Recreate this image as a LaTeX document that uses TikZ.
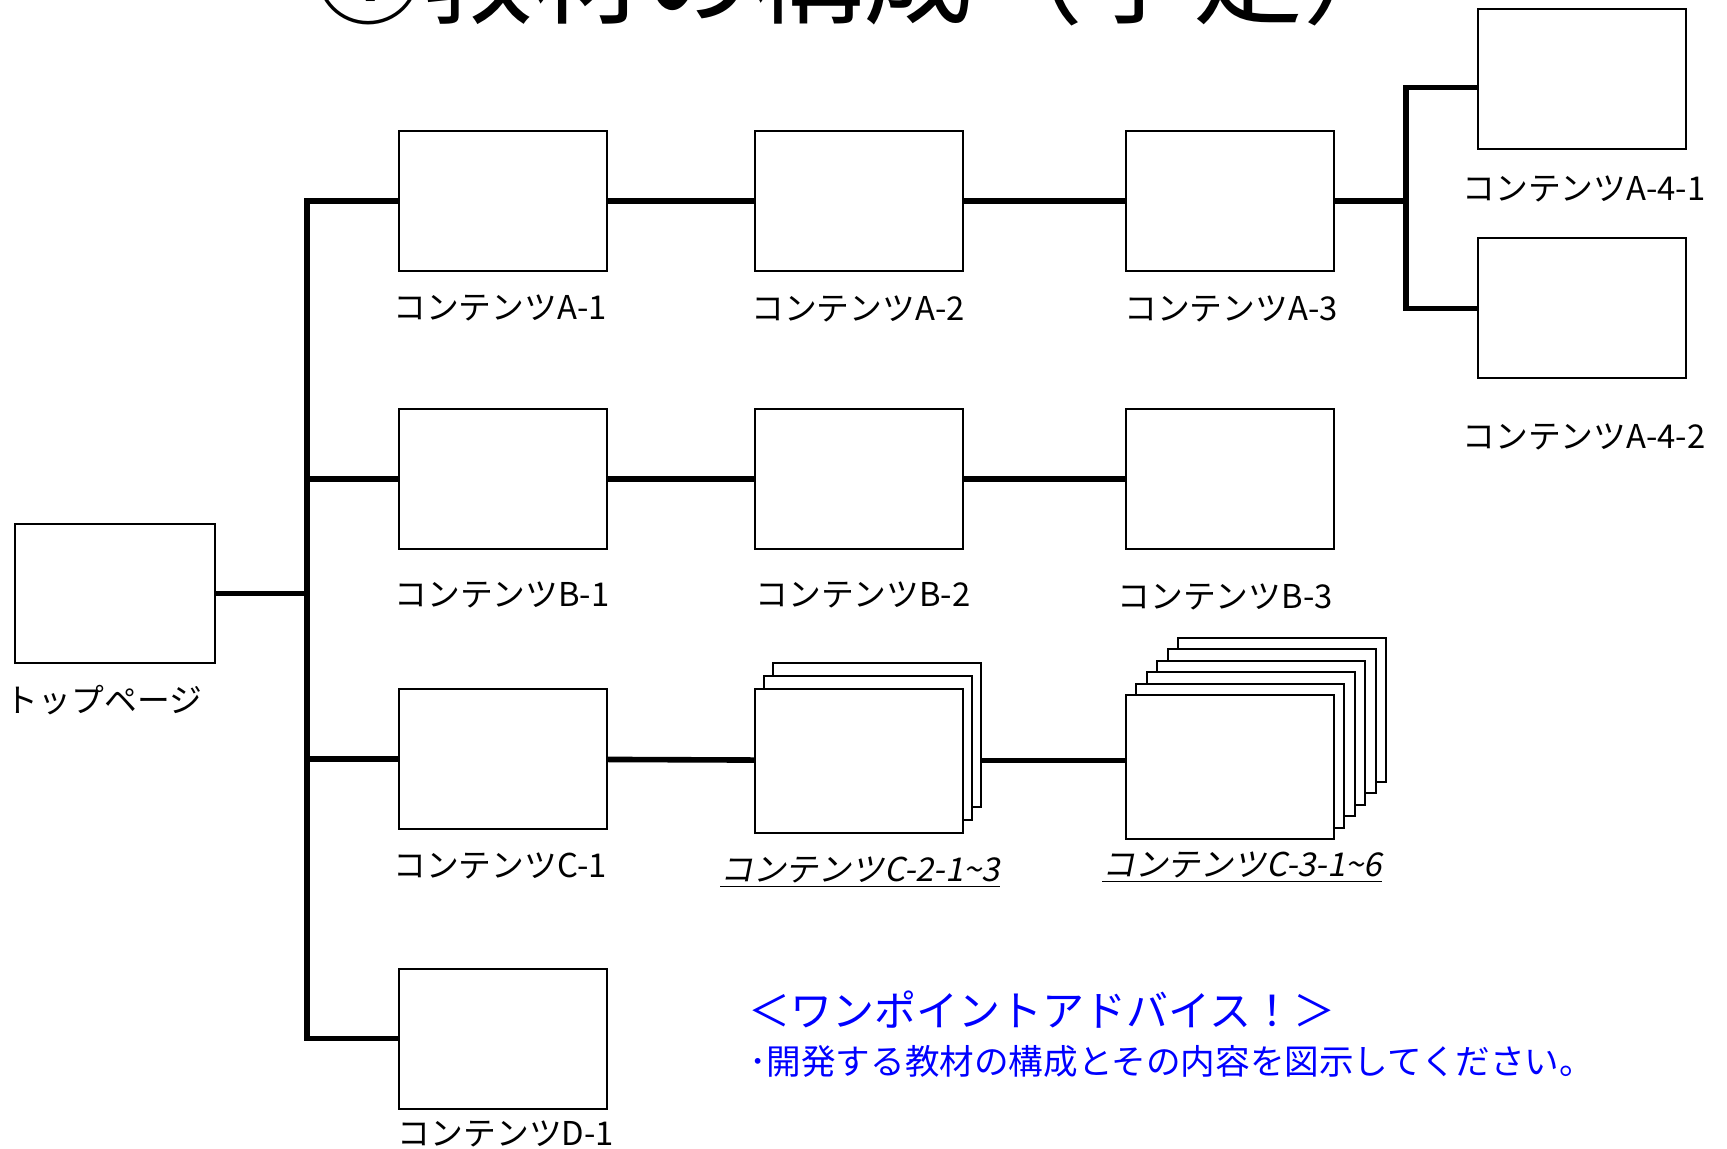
\documentclass[tikz,border=0pt]{standalone}
\usepackage{fontspec}
\newfontfamily\jp{Noto Sans CJK JP}
\newfontfamily\jpit[FakeSlant=0.2]{Noto Sans CJK JP}

\begin{document}
\begin{tikzpicture}[x=0.5pt,y=-0.5pt,
	page/.style={draw,line width=1pt,fill=white,inner sep=0,outer sep=0,minimum width=104pt,minimum height=70pt},
	conn/.style={line width=2.8pt},
	lbl/.style={inner sep=0,font=\jp\fontsize{16.4pt}{19pt}\selectfont},
	lblit/.style={inner sep=0,font=\jpit\fontsize{16.4pt}{19pt}\selectfont},
	advice/.style={inner sep=0,anchor=west,text=blue}]
	\useasboundingbox (0,0) rectangle (1727,1149);
	\node[anchor=base,inner sep=0,font=\jp\fontsize{55pt}{60pt}\selectfont] (title) at (863,16) {①教材の構成（予定）};
	% pages
	\node[page,minimum width=100pt,minimum height=69.5pt] (top) at (115,593.5) {};
	\node[page] (A1) at (503,201) {};
	\node[page] (A2) at (858.5,201) {};
	\node[page] (A3) at (1230,201) {};
	\node[page] (A41) at (1582,79.5) {};
	\node[page] (A42) at (1582,308.5) {};
	\node[page] (B1) at (503,479) {};
	\node[page] (B2) at (858.5,479) {};
	\node[page] (B3) at (1230,479) {};
	\node[page] (C1) at (503,759) {};
	\foreach \k in {2,1}
		\node[page,minimum height=72pt] (C2back\k) at (858.5+9*\k,760.5-13*\k) {};
	\node[page,minimum height=72pt] (C2) at (858.5,760.5) {};
	\foreach \k in {5,...,1}
		\node[page,minimum height=72pt] (C3back\k) at (1229.5+10.5*\k,767-11.5*\k) {};
	\node[page,minimum height=72pt] (C3) at (1229.5,767) {};
	\node[page] (D1) at (503,1038.5) {};
	% tree lines
	\coordinate (trunk) at (307,593.5);
	\coordinate (brA) at (1406,201);
	\draw[conn] (top.east) -- (top.east -| trunk);
	\draw[conn] (A1.west) -- (A1.west -| trunk) |- (D1.west);
	\draw[conn] (B1.west) -- (B1.west -| trunk);
	\draw[conn] (C1.west) -- (C1.west -| trunk);
	\draw[conn] (A1) -- (A2);
	\draw[conn] (A2) -- (A3);
	\draw[conn] (A3.east) -- (brA);
	\draw[conn] ([yshift=-4pt]A41.west) -| (brA) |- (A42.west);
	\draw[conn] (B1) -- (B2);
	\draw[conn] (B2) -- (B3);
	\draw[conn] (C1) -- (C2);
	\draw[conn] (C2.east -| C2back2.east) -- (C2.east -| C3.west);
	% labels
	\node[lbl] (top-lbl) at (104,700) {トップページ};
	\node[lbl] (A1-lbl) at (500,308) {コンテンツA-1};
	\node[lbl] (A2-lbl) at (858,309) {コンテンツA-2};
	\node[lbl] (A3-lbl) at (1231,309) {コンテンツA-3};
	\node[lbl] (A41-lbl) at (1584,189) {コンテンツA-4-1};
	\node[lbl] (A42-lbl) at (1584,437) {コンテンツA-4-2};
	\node[lbl] (B1-lbl) at (502,595) {コンテンツB-1};
	\node[lbl] (B2-lbl) at (863,595) {コンテンツB-2};
	\node[lbl] (B3-lbl) at (1225,597) {コンテンツB-3};
	\node[lbl] (C1-lbl) at (500,866) {コンテンツC-1};
	\node[lblit] (C2-lbl) at (860,872) {\underline{コンテンツC-2-1\textasciitilde3}};
	\node[lblit] (C3-lbl) at (1242,867) {\underline{コンテンツC-3-1\textasciitilde6}};
	\node[lbl] (D1-lbl) at (506,1134) {コンテンツD-1};
	% advice
	\node[advice,font=\jp\fontsize{21pt}{24pt}\selectfont] (tip) at (748,1010) {＜ワンポイントアドバイス！＞};
	\node[advice,font=\jp\fontsize{17.3pt}{20pt}\selectfont] (tip-text) at (749,1061) {･開発する教材の構成とその内容を図示してください。};
\end{tikzpicture}
\end{document}
